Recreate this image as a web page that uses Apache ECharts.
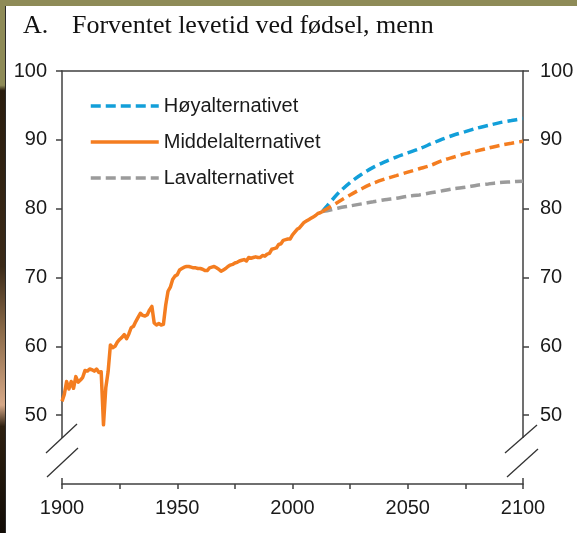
<!DOCTYPE html>
<html>
<head>
<meta charset="utf-8">
<script src="https://cdn.jsdelivr.net/npm/echarts@6/dist/echarts.min.js"></script>
<style>
html, body { margin: 0; padding: 0; background: #fff; }
#chart { width: 577px; height: 533px; }
</style>
</head>
<body>
<div id="chart"></div>
<script>
// historisk forventet levetid, menn
const histYears = [1900,1901,1902,1903,1904,1905,1906,1907,1908,1909,1910,1911,1912,1913,1914,1915,1916,1917,1918,1919,
  1920,1921,1922,1923,1924,1925,1926,1927,1928,1929,1930,1931,1932,1933,1934,1935,1936,1937,1938,1939,
  1940,1941,1942,1943,1944,1945,1946,1947,1948,1949,1950,1951,1952,1953,1954,1955,1956,1957,1958,1959,
  1960,1961,1962,1963,1964,1965,1966,1967,1968,1969,1970,1971,1972,1973,1974,1975,1976,1977,1978,1979,
  1980,1981,1982,1983,1984,1985,1986,1987,1988,1989,1990,1991,1992,1993,1994,1995,1996,1997,1998,1999,
  2000,2001,2002,2003,2004,2005,2006,2007,2008,2009,2010,2011,2012,2013];
const histValues = [52.0,53.0,54.9,53.8,54.9,53.9,55.6,54.8,55.1,55.5,56.5,56.4,56.7,56.6,56.4,56.7,56.2,56.3,48.6,54.0,
  56.3,60.2,59.8,60.0,60.6,61.0,61.3,61.7,61.1,61.8,62.7,62.9,63.6,64.2,64.8,64.5,64.4,64.6,65.3,65.8,
  63.4,63.1,63.3,63.1,63.2,66.0,68.0,68.6,69.7,70.2,70.4,71.1,71.3,71.5,71.6,71.6,71.5,71.4,71.4,71.3,
  71.3,71.2,71.0,71.0,71.4,71.5,71.6,71.4,71.2,70.9,71.1,71.3,71.6,71.8,71.9,72.1,72.2,72.4,72.5,72.6,
  72.4,72.9,72.8,72.9,73.0,72.9,72.9,73.2,73.1,73.4,73.5,74.1,74.2,74.3,74.8,74.9,75.4,75.5,75.6,75.6,
  76.2,76.6,77.0,77.2,77.6,78.0,78.2,78.4,78.6,78.8,79.0,79.3,79.4,79.6];

// framskrivinger
const projYears = [2013,2015,2020,2025,2030,2035,2040,2045,2050,2055,2060,2065,2070,2075,2080,2085,2090,2095,2100];
const highValues = [79.6,80.4,82.3,83.8,85.0,86.0,86.8,87.5,88.1,88.7,89.4,90.1,90.7,91.2,91.7,92.1,92.5,92.8,93.1];
const midValues  = [79.6,80.0,81.0,82.0,82.9,83.7,84.3,84.8,85.3,85.8,86.3,87.0,87.5,88.0,88.4,88.8,89.2,89.5,89.8];
const lowValues  = [79.6,79.7,80.1,80.4,80.7,81.0,81.3,81.5,81.8,82.0,82.3,82.6,82.9,83.1,83.4,83.6,83.8,83.9,84.0];

const xLabels = [1900, 1950, 2000, 2050, 2100];
const yLabels = [50, 60, 70, 80, 90, 100];

const zip = (xs, ys) => xs.map((x, i) => [x, ys[i]]);

const axisColor = '#404040';
const labelStyle = { fontFamily: 'Liberation Sans, Arial', fontSize: 20, color: '#1a1a1a' };
const titleStyle = { fontFamily: 'Liberation Serif', fontSize: 26, fontWeight: 'normal', color: '#111' };

let myChart = echarts.init(document.getElementById('chart'));

let option = {
  animation: false,
  title: [
    { text: 'A.', left: 18, top: 8, textStyle: titleStyle },
    { text: 'Forventet levetid ved fødsel, menn', left: 67, top: 8, textStyle: titleStyle }
  ],
  grid: { left: 62, right: 54, top: 71, bottom: 49 },
  legend: {
    data: ['Høyalternativet', 'Middelalternativet', 'Lavalternativet'],
    orient: 'vertical',
    left: 84,
    top: 91,
    itemWidth: 68,
    itemHeight: 14,
    itemGap: 16,
    lineStyle: { width: 3.5 },
    itemStyle: { opacity: 0 },
    textStyle: { fontFamily: 'Liberation Sans, Arial', fontSize: 20, color: '#1a1a1a' }
  },
  xAxis: [
    {
      type: 'value',
      min: 1900, max: 2100, interval: 25,
      splitLine: { show: false },
      axisLine: { lineStyle: { color: axisColor, width: 1.5 } },
      axisTick: { length: 5, lineStyle: { color: axisColor, width: 1.5 } },
      axisLabel: Object.assign({ margin: 14, formatter: v => xLabels.includes(v) ? String(v) : '' }, labelStyle)
    },
    {
      type: 'value', position: 'top',
      min: 1900, max: 2100,
      splitLine: { show: false },
      axisLine: { show: true, lineStyle: { color: axisColor, width: 1.5 } },
      axisTick: { show: false },
      axisLabel: { show: false }
    }
  ],
  yAxis: [
    {
      type: 'value', position: 'left',
      min: 40, max: 100, interval: 10,
      splitLine: { show: false },
      axisLine: { show: true, lineStyle: { color: axisColor, width: 1.5 } },
      axisTick: { show: true, length: 6, lineStyle: { color: axisColor, width: 1.5 }, customValues: yLabels },
      axisLabel: Object.assign({ margin: 15, customValues: yLabels }, labelStyle)
    },
    {
      type: 'value', position: 'right',
      min: 40, max: 100, interval: 10,
      splitLine: { show: false },
      axisLine: { show: true, lineStyle: { color: axisColor, width: 1.5 } },
      axisTick: { show: true, length: 6, lineStyle: { color: axisColor, width: 1.5 }, customValues: yLabels },
      axisLabel: Object.assign({ margin: 17, customValues: yLabels }, labelStyle)
    }
  ],
  series: [
    {
      name: 'Høyalternativet', type: 'line', symbol: 'none', smooth: 0.3,
      data: zip(projYears, highValues),
      color: '#129fd9',
      lineStyle: { width: 3.5, type: [10, 5], color: '#129fd9' }
    },
    {
      name: 'Lavalternativet', type: 'line', symbol: 'none', smooth: 0.3,
      data: zip(projYears, lowValues),
      color: '#9b9b9b',
      lineStyle: { width: 3.5, type: [10, 5], color: '#9b9b9b' }
    },
    {
      name: 'Middel framskriving', type: 'line', symbol: 'none', smooth: 0.3,
      data: zip(projYears, midValues),
      color: '#f47d20',
      lineStyle: { width: 3.5, type: [10, 5], color: '#f47d20' }
    },
    {
      name: 'Middelalternativet', type: 'line', symbol: 'none',
      data: zip(histYears, histValues),
      color: '#f47d20',
      lineStyle: { width: 3.5, color: '#f47d20', join: 'round' }
    }
  ]
};

myChart.setOption(option);

// akse-brudd og bakgrunnsstriper
const xl = myChart.convertToPixel({ xAxisIndex: 0 }, 1900);
const xr = myChart.convertToPixel({ xAxisIndex: 0 }, 2100);
const yb = myChart.convertToPixel({ yAxisIndex: 0 }, 40);
const slash = (x1, y1, x2, y2) => ({
  type: 'line', z: 100,
  shape: { x1: x1, y1: y1, x2: x2, y2: y2 },
  style: { stroke: '#333', lineWidth: 1.3 }
});

myChart.setOption({
  graphic: [
    { type: 'rect', z: 99, shape: { x: xl - 3, y: yb - 46, width: 6, height: 40 }, style: { fill: '#fff' } },
    { type: 'rect', z: 99, shape: { x: xr - 3, y: yb - 46, width: 6, height: 40 }, style: { fill: '#fff' } },
    slash(xl - 16, yb - 31, xl + 15, yb - 60),
    slash(xl - 15, yb - 7, xl + 16, yb - 36),
    slash(xr - 18, yb - 31, xr + 14, yb - 59),
    slash(xr - 16, yb - 7, xr + 15, yb - 35),
    { type: 'rect', z: 100, shape: { x: 0, y: 0, width: 577, height: 6 }, style: { fill: '#8e8b57' } },
    {
      type: 'rect', z: 100, shape: { x: 0, y: 0, width: 5, height: 533 },
      style: {
        fill: new echarts.graphic.LinearGradient(0, 0, 0, 1, [
          { offset: 0, color: '#8e8b57' }, { offset: 0.16, color: '#8e8b57' },
          { offset: 0.17, color: '#2a1d0e' }, { offset: 0.5, color: '#3b2a18' },
          { offset: 0.62, color: '#8a6a48' }, { offset: 0.76, color: '#d6a887' },
          { offset: 0.8, color: '#2e2010' }, { offset: 1, color: '#120c06' }
        ])
      }
    },
    { type: 'rect', z: 100, shape: { x: 5, y: 6, width: 1, height: 527 }, style: { fill: '#2a2a2a' } }
  ]
});
</script>
</body>
</html>
